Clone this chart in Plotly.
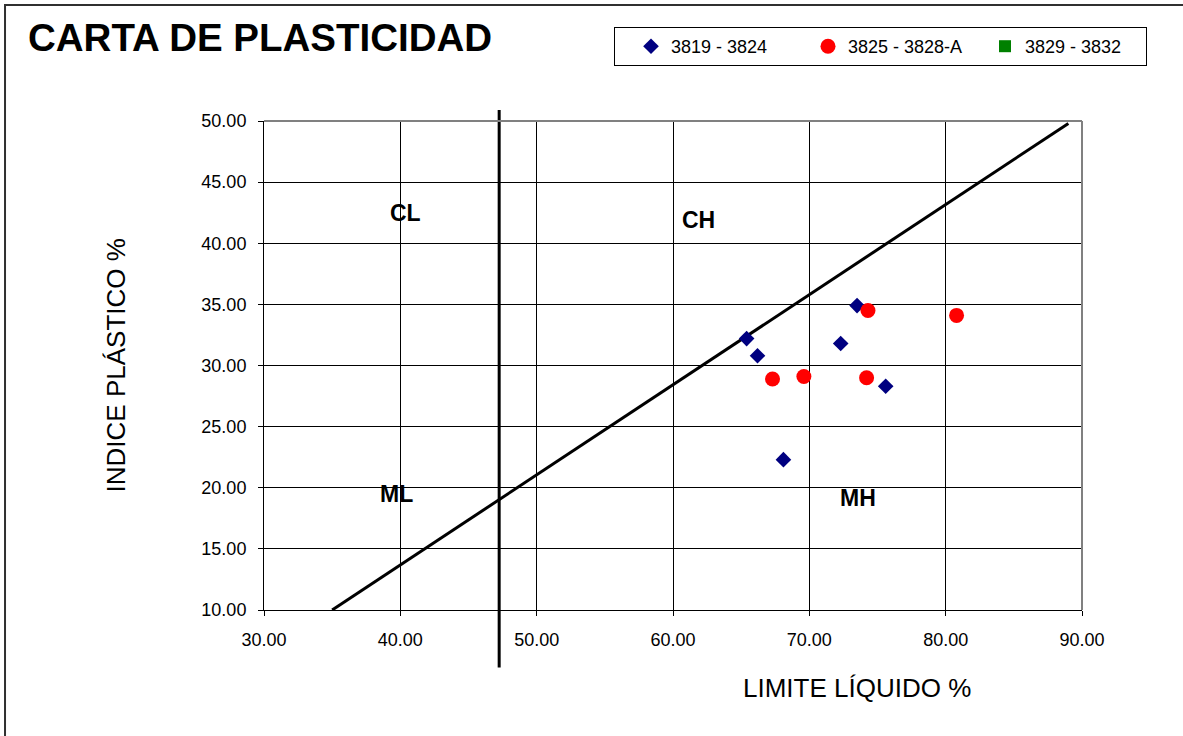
"""Carta de plasticidad"""
import plotly.graph_objects as go

# serie 3819 - 3824 (limite liquido, indice plastico)
ll_3819 = [65.4, 66.2, 68.1, 72.3, 73.5, 75.6]
ip_3819 = [32.2, 30.8, 22.3, 31.8, 34.9, 28.3]

# serie 3825 - 3828-A
ll_3825 = [67.3, 69.6, 74.2, 74.3, 80.8]
ip_3825 = [28.9, 29.1, 29.0, 34.5, 34.1]

# serie 3829 - 3832 (sin datos)
ll_3829 = [None]
ip_3829 = [None]

# linea A
linea_a_ll = [35.0, 89.0]
linea_a_ip = [10.0, 49.8]

# linea vertical LL = 47.25 (sobresale del area de grafico)
limite_ll = 47.25
limite_ip = [5.3, 50.9]

# zonas
zonas = ["CL", "CH", "ML", "MH"]
zonas_ll = [40.35, 61.9, 39.7, 73.6]
zonas_ip = [42.5, 41.9, 19.5, 19.2]

x_range = [30, 90]
y_range = [10, 50]

FONT = "Liberation Sans, Arial, sans-serif"

fig = go.Figure()
fig.add_trace(go.Scatter(x=linea_a_ll, y=linea_a_ip, mode='lines',
                         line=dict(color='black', width=3), showlegend=False, hoverinfo='skip'))
fig.add_trace(go.Scatter(x=ll_3819, y=ip_3819, mode='markers', name='3819 - 3824',
                         marker=dict(symbol='diamond', size=12, color='#000080')))
fig.add_trace(go.Scatter(x=ll_3825, y=ip_3825, mode='markers', name='3825 - 3828-A',
                         marker=dict(symbol='circle', size=15, color='#FF0000')))
fig.add_trace(go.Scatter(x=ll_3829, y=ip_3829, mode='markers', name='3829 - 3832',
                         marker=dict(symbol='square', size=12, color='#008000')))

for nombre, x, y in zip(zonas, zonas_ll, zonas_ip):
    fig.add_annotation(x=x, y=y, text=nombre, showarrow=False, xanchor='center',
                       font=dict(family=FONT, size=23, color='black', weight='bold'))


def y_paper(v):
    return (v - y_range[0]) / (y_range[1] - y_range[0])


fig.add_shape(type='line', xref='x', yref='paper', x0=limite_ll, x1=limite_ll,
              y0=y_paper(limite_ip[0]), y1=y_paper(limite_ip[1]),
              line=dict(color='black', width=3), layer='above')

# bordes gris superior y derecho del area de grafico
fig.add_shape(type='line', xref='paper', yref='paper', x0=0, x1=1, y0=1, y1=1,
              line=dict(color='#808080', width=2), layer='above')
fig.add_shape(type='line', xref='paper', yref='paper', x0=1, x1=1, y0=0, y1=1,
              line=dict(color='#808080', width=2), layer='above')

# marco exterior
fig.add_shape(type='rect', xref='paper', yref='paper', x0=-0.3166, x1=1.14, y0=-0.28, y1=1.237,
              line=dict(color='#303030', width=2))

fig.add_annotation(xref='paper', yref='paper', x=-0.181, y=0.5, text='INDICE PLÁSTICO %',
                   textangle=-90, showarrow=False, xanchor='center', yanchor='middle',
                   font=dict(family=FONT, size=26, color='black'))
fig.add_annotation(xref='paper', yref='paper', x=0.725, y=-0.1595, text='LIMITE LÍQUIDO %',
                   showarrow=False, xanchor='center', yanchor='middle',
                   font=dict(family=FONT, size=26, color='black'))

fig.update_layout(
    width=1183, height=736, autosize=False,
    margin=dict(l=264, r=101, t=121, b=126),
    paper_bgcolor='white', plot_bgcolor='white',
    font=dict(family=FONT, size=18, color='black'),
    title=dict(text='<b>CARTA DE PLASTICIDAD</b>', x=28 / 1183, xanchor='left',
               y=1 - 38 / 736, yanchor='middle', font=dict(family=FONT, size=38.5, color='black')),
    legend=dict(orientation='h', x=(614 - 264) / 818, xanchor='left', y=(610 - 27) / 489, yanchor='top',
                bordercolor='black', borderwidth=1, bgcolor='white', indentation=16,
                entrywidth=116, itemwidth=30, font=dict(family=FONT, size=18)),
    showlegend=True,
)
fig.update_xaxes(range=x_range, dtick=10, tickformat='.2f', showgrid=True, gridcolor='black', gridwidth=1,
                 showline=True, linecolor='black', linewidth=1, ticks='outside', ticklen=5,
                 tickcolor='black', zeroline=False, ticklabelstandoff=8)
fig.update_yaxes(range=y_range, dtick=5, tickformat='.2f', showgrid=True, gridcolor='black', gridwidth=1,
                 showline=True, linecolor='black', linewidth=1, ticks='outside', ticklen=5,
                 tickcolor='black', zeroline=False, ticklabelstandoff=8)

fig.write_html("out.html", config={'responsive': False, 'displayModeBar': False},
               post_script="document.body.style.margin = '0';")
